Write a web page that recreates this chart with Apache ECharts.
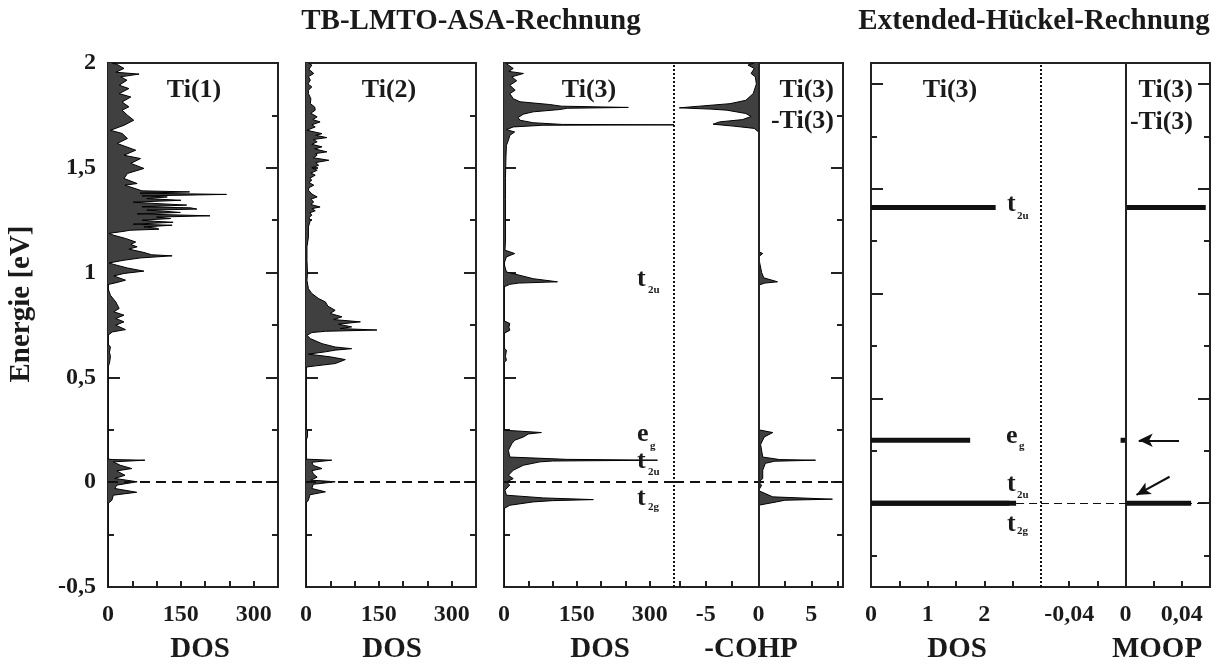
<!DOCTYPE html>
<html><head><meta charset="utf-8">
<script src="https://cdn.jsdelivr.net/npm/echarts@6/dist/echarts.min.js"></script>
<style>html,body{margin:0;padding:0;background:#fff}#c{width:1221px;height:666px}</style>
</head><body><div id="c"></div>
<script>
// ---------- DATA: [energy (eV), value] ----------
const ti1Dos = [[2.000,8],[1.994,18],[1.974,33],[1.956,16],[1.947,64],[1.934,26],[1.918,39],[1.894,23],[1.878,43],[1.854,23],[1.838,47],[1.814,29],[1.791,43],[1.775,29],[1.751,40],[1.727,53],[1.703,33],[1.679,5],[1.664,29],[1.640,40],[1.616,19],[1.584,57],[1.560,33],[1.544,67],[1.521,47],[1.497,74],[1.473,40],[1.449,33],[1.425,60],[1.417,35],[1.390,70],[1.385,168],[1.379,66],[1.373,244],[1.366,70],[1.361,122],[1.353,80],[1.345,150],[1.336,52],[1.330,95],[1.322,162],[1.314,70],[1.309,170],[1.303,183],[1.298,80],[1.293,115],[1.287,149],[1.280,60],[1.271,210],[1.265,100],[1.258,129],[1.250,70],[1.245,95],[1.240,134],[1.231,52],[1.226,132],[1.218,74],[1.212,100],[1.207,105],[1.202,45],[1.197,33],[1.187,2],[1.178,12],[1.163,36],[1.146,57],[1.134,47],[1.123,60],[1.112,43],[1.096,74],[1.085,90],[1.080,132],[1.070,67],[1.059,33],[1.046,2],[1.039,12],[1.022,40],[1.007,74],[0.996,33],[0.984,12],[0.964,36],[0.953,19],[0.943,0],[0.924,0],[0.892,5],[0.860,16],[0.829,23],[0.813,12],[0.797,33],[0.781,16],[0.765,33],[0.749,16],[0.728,36],[0.717,9],[0.701,0],[0.660,0],[0.645,5],[0.620,3],[0.600,5],[0.567,3],[0.550,0],[0.110,0],[0.108,10],[0.105,76],[0.097,11],[0.081,25],[0.065,49],[0.054,18],[0.033,35],[0.018,14],[0.002,60],[-0.014,18],[-0.030,14],[-0.048,59],[-0.062,11],[-0.086,8],[-0.102,0],[-0.500,0]];

const ti2Dos = [[2.000,5],[1.990,12],[1.970,6],[1.950,16],[1.935,5],[1.918,9],[1.900,4],[1.886,12],[1.870,5],[1.854,5],[1.830,10],[1.806,9],[1.790,18],[1.775,19],[1.760,10],[1.743,23],[1.730,14],[1.719,29],[1.705,12],[1.695,19],[1.679,2],[1.663,33],[1.655,20],[1.644,43],[1.635,15],[1.624,23],[1.612,12],[1.600,33],[1.590,18],[1.576,43],[1.568,20],[1.560,23],[1.548,15],[1.536,47],[1.525,20],[1.512,26],[1.500,12],[1.488,23],[1.475,10],[1.465,19],[1.450,8],[1.441,12],[1.430,6],[1.417,16],[1.405,6],[1.393,5],[1.375,12],[1.361,23],[1.350,10],[1.337,16],[1.325,10],[1.313,29],[1.305,12],[1.295,19],[1.285,8],[1.274,12],[1.262,6],[1.250,9],[1.218,5],[1.170,5],[1.123,2],[1.059,2],[1.000,3],[0.963,2],[0.923,5],[0.900,12],[0.876,26],[0.860,40],[0.840,45],[0.820,60],[0.805,50],[0.789,74],[0.776,57],[0.765,112],[0.754,67],[0.741,94],[0.733,70],[0.726,146],[0.720,40],[0.714,12],[0.701,2],[0.685,9],[0.661,33],[0.645,60],[0.637,94],[0.630,60],[0.622,40],[0.611,5],[0.598,50],[0.585,81],[0.575,70],[0.566,60],[0.555,20],[0.550,2],[0.542,0],[0.260,0],[0.248,3],[0.216,3],[0.200,0],[0.110,0],[0.105,53],[0.095,12],[0.080,15],[0.065,33],[0.055,12],[0.040,15],[0.024,23],[0.010,10],[0.002,60],[-0.010,15],[-0.030,12],[-0.046,40],[-0.060,8],[-0.085,5],[-0.100,0],[-0.500,0]];

const ti3Dos = [[2.000,3],[1.997,5],[1.974,19],[1.960,10],[1.950,40],[1.934,16],[1.915,26],[1.894,12],[1.870,23],[1.854,12],[1.830,19],[1.815,33],[1.802,94],[1.794,118],[1.788,256],[1.784,130],[1.778,115],[1.767,60],[1.756,40],[1.740,29],[1.727,33],[1.715,60],[1.707,120],[1.705,360],[1.703,80],[1.695,19],[1.682,5],[1.671,22],[1.655,12],[1.631,9],[1.607,5],[1.550,4],[1.450,3],[1.350,3],[1.250,3],[1.150,3],[1.107,2],[1.091,22],[1.075,5],[1.043,0],[1.003,5],[0.995,19],[0.971,60],[0.956,110],[0.950,30],[0.944,12],[0.932,0],[0.770,0],[0.757,12],[0.740,10],[0.725,12],[0.710,0],[0.640,0],[0.630,5],[0.600,3],[0.582,5],[0.570,0],[0.250,0],[0.248,2],[0.237,77],[0.230,50],[0.216,40],[0.200,22],[0.184,16],[0.152,9],[0.120,12],[0.109,129],[0.105,316],[0.101,100],[0.097,74],[0.081,40],[0.057,19],[0.033,9],[0.017,19],[0.001,5],[-0.014,12],[-0.038,2],[-0.062,5],[-0.075,81],[-0.083,184],[-0.088,100],[-0.094,60],[-0.110,12],[-0.126,0],[-0.500,0]];

const ti3Cohp = [[2.000,-0.4],[1.990,-1.0],[1.974,-0.4],[1.950,-0.7],[1.934,-0.3],[1.900,-0.2],[1.854,-0.5],[1.822,-1.2],[1.806,-2.7],[1.794,-5.6],[1.786,-7.5],[1.780,-4.5],[1.775,-3.0],[1.759,-1.2],[1.745,-0.7],[1.730,-1.5],[1.719,-3.7],[1.708,-4.3],[1.699,-2.4],[1.688,-0.4],[1.671,0],[1.100,0],[1.091,0.4],[1.075,0],[1.000,0.3],[0.975,0.5],[0.956,1.8],[0.950,0.6],[0.940,0],[0.250,0],[0.237,1.35],[0.216,0.55],[0.180,0.2],[0.120,0.4],[0.108,2.0],[0.105,5.4],[0.100,1.5],[0.090,0.65],[0.057,0.4],[0.017,0.4],[0.001,0],[-0.014,0.3],[-0.040,0],[-0.070,1.35],[-0.081,7.0],[-0.086,2.5],[-0.094,1.7],[-0.110,0],[-0.500,0]];

// Extended-Hückel levels (own energy scale)
const ehLevelEnergy = [1.41, 0.30, 0.0, 0.0];
const ehLevelDos    = [2.20, 1.75, 2.56, 2.44];
const ehMoopEnergy  = [1.41, 0.30, 0.0];
const ehMoopValue   = [0.057, -0.0035, 0.0466];

const tbEnergyTicks = {min: -0.5, max: 2, interval: 0.5};
const ehEnergyRange = {min: -0.4, max: 2.1};
const ehMajorTicks = [0, 0.5, 1, 1.5, 2];
const ehMinorTicks = [-0.25, 0.25, 0.75, 1.25, 1.75];
const dosTickValues = [50, 100, 150, 200, 250, 300];
const dosLabelValues = [0, 150, 300];
const cohpTickValues = [-7.5, -5, -2.5, 2.5, 5, 7.5];
const cohpLabelValues = [-5, 0, 5];
const ehDosTicks = [0.5, 1, 1.5, 2, 2.5];
const ehDosLabels = [0, 1, 2];
const moopTicks = [-0.04, -0.02, 0.02, 0.04];
const moopLabels = [-0.04, 0, 0.04];

// ---------- STYLE ----------
const FONT = '"Liberation Serif", "Times New Roman", serif';
const INK = '#1a1a1a';
const comma = v => String(v).replace('.', ',');

const grids = [
  {left:108, top:63, width:170, height:524, show:true, borderColor:'#222', borderWidth:2}, // 0 Ti1
  {left:306, top:63, width:170, height:524, show:true, borderColor:'#222', borderWidth:2}, // 1 Ti2
  {left:504, top:63, width:170, height:524}, // 2 Ti3 DOS
  {left:674, top:63, width:169, height:524}, // 3 COHP
  {left:871, top:63, width:170, height:524}, // 4 EH DOS
  {left:1041, top:63, width:169, height:524}, // 5 MOOP
  {left:504, top:63, width:339, height:524, show:true, borderColor:'#222', borderWidth:2}, // 6 frame
  {left:871, top:63, width:339, height:524, show:true, borderColor:'#222', borderWidth:2}  // 7 frame
];

const axLine = {onZero:false, lineStyle:{color:'#222', width:2}};
const lblStyle = {fontFamily:FONT, fontWeight:'bold', fontSize:24, color:INK};

function xAxis(gi, min, max, ticks, labels, fmt) {
  return {type:'value', gridIndex:gi, min, max,
    axisLine:axLine,
    axisTick:{inside:true, length:6, customValues:ticks, lineStyle:{color:'#222', width:2}},
    axisLabel:Object.assign({margin:16, customValues:labels, formatter:fmt || (v => comma(v))}, lblStyle),
    splitLine:{show:false}};
}
function yTB(gi, pos, labels) {
  return {type:'value', gridIndex:gi, position:pos, min:tbEnergyTicks.min, max:tbEnergyTicks.max, interval:tbEnergyTicks.interval,
    axisLine:axLine,
    axisTick:{inside:true, length:12, lineStyle:{color:'#222', width:2}},
    minorTick:{show:true, splitNumber:2, length:6, lineStyle:{color:'#222', width:2}},
    axisLabel:labels ? Object.assign({margin:12, formatter:v => comma(v)}, lblStyle) : {show:false},
    splitLine:{show:false}, minorSplitLine:{show:false}};
}
function yEH(gi, pos, ticks, len) {
  return {type:'value', gridIndex:gi, position:pos, min:ehEnergyRange.min, max:ehEnergyRange.max,
    axisLine:axLine,
    axisTick:{inside:true, length:len, customValues:ticks, lineStyle:{color:'#222', width:2}},
    axisLabel:{show:false}, splitLine:{show:false}};
}

const xAxes = [
  xAxis(0, 0, 350, dosTickValues, dosLabelValues),
  xAxis(1, 0, 350, dosTickValues, dosLabelValues),
  xAxis(2, 0, 350, dosTickValues, dosLabelValues),
  xAxis(3, -8, 8, cohpTickValues, cohpLabelValues),
  xAxis(4, 0, 3, ehDosTicks, ehDosLabels),
  xAxis(5, -0.06, 0.06, moopTicks, moopLabels)
];
const yAxes = [
  yTB(0, 'left', true),   // 0
  yTB(0, 'right', false), // 1
  yTB(1, 'left', false),  // 2
  yTB(1, 'right', false), // 3
  yTB(2, 'left', false),  // 4
  yTB(3, 'right', false), // 5
  yEH(4, 'left', ehMajorTicks, 12), // 6
  yEH(4, 'left', ehMinorTicks, 6),  // 7
  yEH(5, 'right', ehMajorTicks, 12), // 8
  yEH(5, 'right', ehMinorTicks, 6)   // 9
];

function renderArea(params, api) {
  if (params.dataIndexInside !== 0) return;
  const n = params.dataInsideLength;
  const pts = [];
  for (let i = 0; i < n; i++) pts.push(api.coord([api.value(0, i), api.value(1, i)]));
  const b0 = api.coord([0, api.value(1, 0)]);
  const b1 = api.coord([0, api.value(1, n - 1)]);
  const cs = params.coordSys;
  return {type:'group',
    clipPath:{type:'rect', shape:{x:cs.x, y:cs.y, width:cs.width, height:cs.height}},
    children:[
      {type:'polygon', shape:{points:[b0].concat(pts, [b1])}, style:{fill:'#404040', stroke:null}},
      {type:'polyline', shape:{points:pts}, style:{fill:null, stroke:'#000', lineWidth:1}}
    ]};
}
function areaSeries(pts, xi, yi) {
  return {type:'custom', xAxisIndex:xi, yAxisIndex:yi, silent:true, z:3,
    data:pts.map(p => [p[1], p[0]]), encode:{x:0, y:1}, renderItem:renderArea};
}
function renderBar(params, api) {
  const a = api.coord([0, api.value(1)]);
  const b = api.coord([api.value(0), api.value(1)]);
  return {type:'line', shape:{x1:a[0], y1:a[1], x2:b[0], y2:b[1]}, style:{stroke:'#111', lineWidth:5}};
}
function barSeries(vals, energies, xi, yi) {
  return {type:'custom', xAxisIndex:xi, yAxisIndex:yi, silent:true, z:4,
    data:vals.map((v, i) => [v, energies[i]]), encode:{x:0, y:1}, renderItem:renderBar};
}
const fermi = {yAxis:0, lineStyle:{type:[10,6], width:2, color:'#111'}};
function refSeries(xi, yi, items) {
  return {type:'line', xAxisIndex:xi, yAxisIndex:yi, data:[], silent:true, z:5,
    markLine:{silent:true, symbol:['none','none'], label:{show:false}, emphasis:{disabled:true}, animation:false, data:items}};
}
const dotted = {type:[2,2], width:2, color:'#111'};
const arrowLS = {type:'solid', width:2, color:'#111'};

const series = [
  areaSeries(ti1Dos, 0, 0),
  areaSeries(ti2Dos, 1, 2),
  areaSeries(ti3Dos, 2, 4),
  areaSeries(ti3Cohp, 3, 5),
  barSeries(ehLevelDos, ehLevelEnergy, 4, 6),
  barSeries(ehMoopValue, ehMoopEnergy, 5, 8),
  refSeries(0, 0, [fermi]),
  refSeries(1, 2, [fermi]),
  refSeries(2, 4, [fermi, {xAxis:350, lineStyle:dotted}]),
  refSeries(3, 5, [fermi, {xAxis:0, lineStyle:{type:'solid', width:2, color:'#222'}}]),
  refSeries(4, 6, [{xAxis:3, lineStyle:dotted},
    [{coord:[2.56, 0], lineStyle:{type:[8,5], width:1, color:'#111'}}, {coord:[3, 0]}]]),
  refSeries(5, 8, [
    {xAxis:0, lineStyle:{type:'solid', width:2, color:'#222'}},
    {yAxis:0, lineStyle:{type:[8,5], width:1, color:'#111'}},
    [{coord:[0.038, 0.30], symbol:'none', lineStyle:arrowLS}, {coord:[0.0094, 0.30], symbol:'arrow', symbolSize:[10,14]}],
    [{coord:[0.0313, 0.126], symbol:'none', lineStyle:arrowLS}, {coord:[0.0078, 0.039], symbol:'arrow', symbolSize:[10,14]}]
  ])
];

function T(text, x, y, size, align, extra) {
  return Object.assign({type:'text', x, y, z:10, silent:true,
    style:{text, font:'bold ' + size + 'px ' + FONT, fill:INK, align:align || 'center', verticalAlign:'middle'}}, extra || {});
}
const graphics = [
  T('TB-LMTO-ASA-Rechnung', 471, 22, 29),
  T('Extended-Hückel-Rechnung', 1034, 22, 29),
  T('Energie [eV]', 22, 304, 29, 'center', {rotation:Math.PI/2}),
  T('Ti(1)', 194, 90, 26), T('Ti(2)', 389, 90, 26), T('Ti(3)', 589, 90, 26),
  T('Ti(3)', 834, 90, 26, 'right'), T('-Ti(3)', 834, 121, 26, 'right'),
  T('Ti(3)', 950, 90, 26), T('Ti(3)', 1193, 90, 26, 'right'), T('-Ti(3)', 1193, 122, 26, 'right'),
  T('DOS', 200, 650, 29), T('DOS', 392, 650, 29), T('DOS', 600, 650, 29), T('-COHP', 751, 650, 29),
  T('DOS', 957, 650, 29), T('MOOP', 1157, 650, 29),
  // band labels (main letter + subscript)
  T('t', 637, 279, 26, 'left'), T('2u', 648, 290, 11, 'left'),
  T('e', 637, 434, 26, 'left'), T('g', 650, 446, 11, 'left'),
  T('t', 637, 461, 26, 'left'), T('2u', 648, 472, 11, 'left'),
  T('t', 637, 498, 26, 'left'), T('2g', 648, 507, 11, 'left'),
  T('t', 1007, 204, 26, 'left'), T('2u', 1017, 216, 11, 'left'),
  T('e', 1006, 436, 26, 'left'), T('g', 1019, 446, 11, 'left'),
  T('t', 1007, 484, 26, 'left'), T('2u', 1017, 495, 11, 'left'),
  T('t', 1007, 524, 26, 'left'), T('2g', 1017, 531, 11, 'left')
];

const chart = echarts.init(document.getElementById('c'), null, {renderer:'canvas'});
chart.setOption({
  animation:false,
  backgroundColor:'#fff',
  grid:grids,
  xAxis:xAxes,
  yAxis:yAxes,
  series:series,
  graphic:graphics
});
</script></body></html>
